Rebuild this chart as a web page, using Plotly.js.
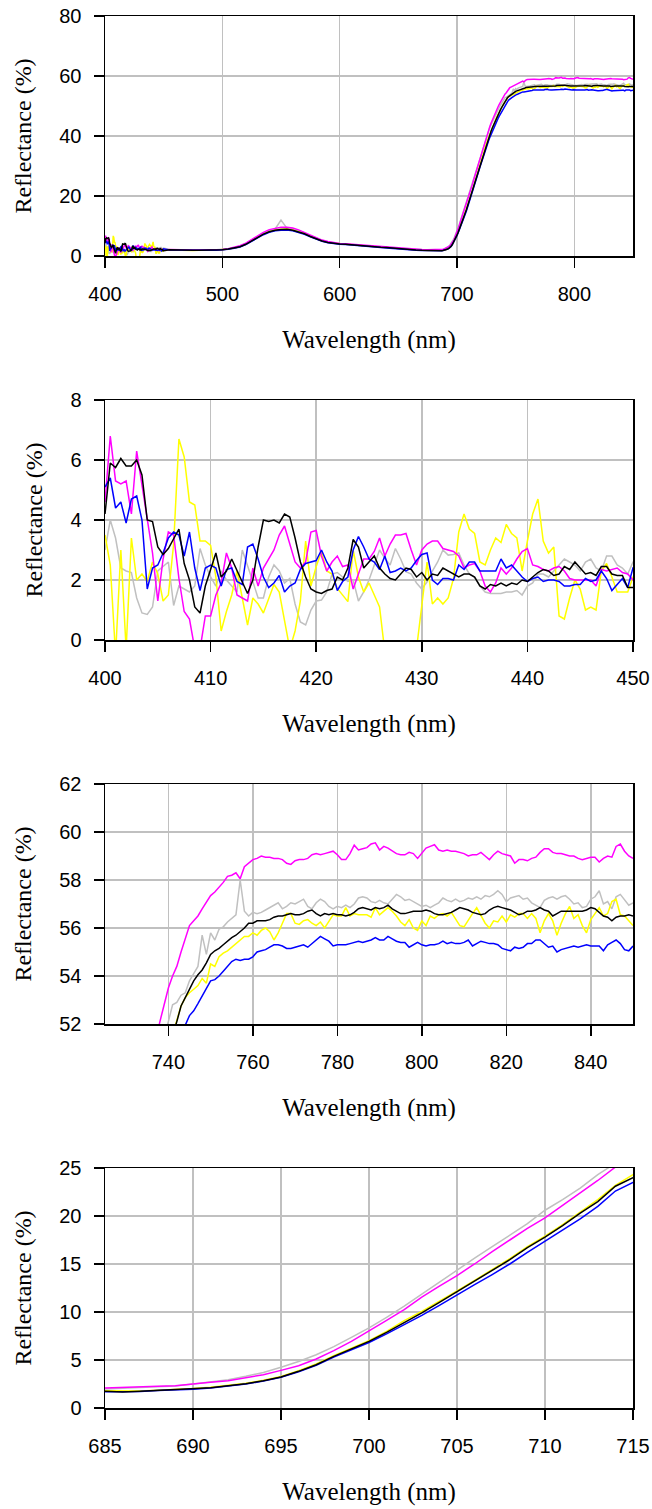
<!DOCTYPE html>
<html>
<head>
<meta charset="utf-8">
<script src="https://cdn.plot.ly/plotly-3.0.1.min.js"></script>
<style>
html,body{margin:0;padding:0;background:#fff;}
#chart{width:652px;height:1509px;}
</style>
</head>
<body>
<div id="chart"></div>
<script>
// ---------- Wavelength sampling of each data segment (nm) ----------
const segA = {start: 400, step: 0.5};   // 400-450 nm
const segB = {start: 455, step: 5};     // 455-680 nm
const segC = {start: 685, step: 1};     // 685-715 nm
const segD = {start: 716, step: 1};     // 716-850 nm

// ---------- Series names and colours ----------
const seriesNames = ["gray", "yellow", "magenta", "blue", "black"];
const seriesColors = ["#c0c0c0", "#ffff00", "#ff00ff", "#0000ff", "#000000"];

// ---------- Reflectance (%) : segment A, 400-450 nm ----------
const blackA = [4.2,5.9,5.75,6.05,5.8,5.8,6.0,5.5,4.0,3.95,
  3.1,2.85,3.05,3.4,3.7,2.55,2.0,1.1,0.9,1.8,
  2.35,2.9,2.1,2.3,2.7,2.3,1.95,1.55,2.0,3.1,
  4.0,3.95,4.0,3.9,4.2,4.1,3.4,2.6,2.1,1.7,
  1.6,1.55,1.65,1.7,2.1,2.0,2.4,3.35,3.1,2.4,
  2.6,2.8,2.4,2.2,2.05,2.0,2.2,2.4,2.35,2.1,
  2.25,2.0,2.2,2.15,2.4,2.3,2.2,2.1,2.2,2.2,
  2.1,1.8,1.7,1.85,1.8,1.9,1.8,1.9,1.85,2.0,
  1.95,2.1,2.25,2.35,2.3,2.15,2.2,2.45,2.35,2.6,
  2.4,2.2,2.25,2.15,2.45,2.45,2.2,2.15,2.15,1.75,
  1.75];
const magentaA = [4.6,6.8,5.3,5.2,5.3,4.2,6.3,5.2,4.0,2.9,
  1.3,2.7,3.6,3.5,2.05,0.95,0.7,-0.3,-0.3,0.8,
  0.8,1.5,1.9,2.9,2.4,1.5,1.4,1.3,2.4,1.8,
  2.4,2.7,3.0,3.5,3.8,3.2,2.6,2.4,2.6,3.6,
  3.65,2.8,2.3,2.6,2.8,2.45,2.5,1.7,2.2,2.7,
  2.7,2.95,3.4,2.8,3.2,3.5,3.5,3.55,3.0,2.5,
  3.0,3.2,3.3,3.3,3.05,3.0,2.95,2.8,2.4,2.5,
  2.55,2.3,1.8,1.6,1.9,2.4,2.2,2.4,2.7,2.95,
  3.05,2.5,2.45,2.35,2.3,2.4,2.45,2.3,2.05,2.0,
  2.0,2.0,2.0,1.8,2.35,2.3,2.35,2.4,2.25,2.2,
  2.0];
const blueA = [5.1,5.4,4.4,4.6,3.9,4.7,4.8,4.0,1.7,2.4,
  2.5,2.9,3.4,3.6,3.5,2.8,3.6,2.4,1.65,2.4,
  2.5,2.4,1.8,2.35,2.4,1.95,1.85,3.1,3.2,2.7,
  2.1,1.75,1.9,2.15,1.6,1.8,1.9,2.35,2.55,2.6,
  2.65,3.0,2.6,2.3,1.65,1.95,2.1,3.0,3.45,3.1,
  2.7,2.6,2.35,2.8,2.25,2.3,2.4,2.3,2.4,2.65,
  2.85,2.9,2.0,1.85,2.05,2.05,2.0,2.5,2.35,2.6,
  2.6,2.3,2.3,2.3,2.3,2.7,2.4,2.5,2.3,2.1,
  1.95,2.05,2.1,1.95,2.0,2.0,1.95,1.8,1.8,1.85,
  1.85,2.05,1.95,2.0,2.3,2.05,1.65,1.85,2.05,1.75,
  2.4];
const yellowA = [3.5,2.5,-0.5,3.0,-0.3,3.4,2.0,2.2,1.95,2.6,
  2.2,1.3,1.5,3.2,6.7,6.1,4.6,4.5,3.3,3.3,
  3.15,2.1,0.3,0.95,1.5,2.3,1.4,0.5,1.4,1.2,
  0.9,1.4,1.85,1.6,0.6,-0.3,0.3,1.3,3.3,1.8,
  2.45,2.95,2.3,2.2,1.72,1.5,1.28,3.0,2.1,1.6,
  1.9,1.5,1.1,-0.4,-0.8,-1.0,-1.0,-0.8,-0.6,-0.3,
  1.2,2.6,1.2,1.4,1.2,1.4,2.05,3.6,4.2,3.7,
  3.55,2.6,2.5,3.0,3.4,3.25,3.85,3.55,3.4,2.3,
  3.3,4.2,4.7,3.3,2.9,3.1,0.8,0.7,1.4,2.0,
  1.7,1.0,1.1,1.0,2.3,2.55,2.1,1.6,1.6,1.6,
  2.1];
const grayA = [3.0,4.0,3.4,2.4,2.3,2.25,1.4,0.9,0.85,1.1,
  2.3,2.45,2.6,1.15,1.8,1.7,1.6,1.8,3.05,2.5,
  2.1,1.8,2.3,2.0,1.8,1.6,3.0,2.5,1.95,1.4,
  1.4,2.1,2.5,2.3,1.9,2.05,1.2,0.6,0.5,1.0,
  1.3,1.33,1.6,2.2,2.25,2.1,1.95,2.0,1.3,1.6,
  2.0,2.5,3.0,2.72,2.5,3.05,2.7,2.28,2.2,1.9,
  1.7,1.94,2.3,2.6,3.0,2.83,2.85,2.9,2.5,2.2,
  2.1,1.8,1.6,1.55,1.55,1.55,1.6,1.6,1.65,1.5,
  1.8,1.9,2.2,2.2,2.1,2.3,2.5,2.7,2.6,2.5,
  2.3,2.6,2.7,2.4,2.3,2.8,2.8,2.5,2.4,2.2,
  2.6];

// ---------- Segment B, 455-680 nm ----------
const blackB = [2.1,2.0,2.0,1.95,1.9,1.9,1.9,1.95,2.0,2.1,
  2.3,2.6,3.1,3.9,5.0,6.2,7.3,8.1,8.6,8.8,
  8.9,8.6,8.1,7.4,6.5,5.7,5.0,4.5,4.2,4.0,
  3.9,3.7,3.5,3.3,3.1,3.0,2.9,2.8,2.6,2.4,
  2.3,2.1,2.0,1.9,1.8,1.75];
const magentaB = [2.2,2.1,2.05,2.0,2.0,2.0,2.0,2.05,2.1,2.2,
  2.45,2.8,3.4,4.3,5.5,6.8,7.9,8.8,9.3,9.6,
  9.6,9.3,8.7,7.9,7.0,6.1,5.3,4.8,4.4,4.2,
  4.05,3.9,3.7,3.45,3.25,3.1,3.0,2.9,2.75,2.6,
  2.45,2.3,2.2,2.15,2.1,2.08];
const blueB = [2.0,1.95,1.95,1.9,1.9,1.85,1.85,1.9,1.95,2.05,
  2.25,2.55,3.0,3.8,4.9,6.1,7.1,7.9,8.4,8.6,
  8.7,8.4,7.9,7.2,6.4,5.6,4.9,4.4,4.1,3.9,
  3.8,3.6,3.4,3.2,3.0,2.9,2.8,2.7,2.5,2.35,
  2.2,2.05,1.95,1.85,1.75,1.72];
const yellowB = [2.0,1.9,2.0,1.9,1.85,1.9,1.85,1.9,2.0,2.1,
  2.3,2.6,3.1,3.9,5.0,6.2,7.3,8.1,8.7,8.9,
  9.0,8.7,8.2,7.5,6.6,5.8,5.1,4.6,4.3,4.05,
  3.95,3.75,3.55,3.35,3.15,3.0,2.9,2.8,2.65,2.45,
  2.3,2.15,2.0,1.9,1.85,1.8];
const grayB = [2.2,2.1,2.05,2.0,2.0,2.0,2.0,2.0,2.1,2.2,
  2.4,2.75,3.3,4.2,5.4,6.6,7.7,8.5,9.0,12.0,
  9.3,9.0,8.4,7.7,6.8,5.9,5.2,4.7,4.3,4.1,
  4.0,3.8,3.6,3.4,3.2,3.05,2.95,2.85,2.7,2.55,
  2.4,2.25,2.15,2.05,2.0,1.98];

// ---------- Segment C, 685-715 nm ----------
const blackC = [1.74,1.67,1.74,1.84,1.9,1.98,2.12,2.33,2.53,2.85,
  3.23,3.82,4.5,5.38,6.15,6.94,7.88,8.85,9.9,11.0,
  12.1,13.2,14.3,15.45,16.7,17.8,19.0,20.3,21.5,23.1,
  24.0];
const magentaC = [2.08,2.12,2.15,2.26,2.33,2.47,2.67,2.85,3.13,3.47,
  3.92,4.4,5.1,5.97,6.94,8.0,9.13,10.24,11.56,12.7,
  13.8,15.0,16.3,17.5,18.7,19.8,21.1,22.4,23.7,25.1,
  26.4];
const blueC = [1.7,1.68,1.72,1.82,1.88,1.96,2.08,2.28,2.5,2.8,
  3.2,3.78,4.45,5.3,6.05,6.82,7.72,8.65,9.65,10.7,
  11.8,12.85,13.9,15.0,16.2,17.35,18.5,19.7,21.0,22.6,
  23.5];
const yellowC = [1.78,1.72,1.78,1.86,1.93,2.02,2.15,2.35,2.57,2.88,
  3.28,3.88,4.58,5.45,6.25,7.02,7.98,9.1,10.05,11.1,
  12.2,13.3,14.4,15.55,16.8,17.9,19.1,20.4,21.7,23.2,
  24.3];
const grayC = [1.98,2.05,2.1,2.2,2.3,2.5,2.7,2.95,3.3,3.7,
  4.25,4.85,5.55,6.4,7.35,8.35,9.45,10.6,11.85,13.1,
  14.4,15.6,16.8,18.0,19.2,20.6,21.7,22.9,24.3,25.5,
  26.7];

// ---------- Segment D, 716-850 nm ----------
const blackD = [25.3,26.7,28.1,29.5,30.85,32.2,33.5,34.8,36.05,37.25,
  38.4,39.5,40.55,41.6,42.6,43.55,44.5,45.4,46.25,47.1,
  47.9,48.7,49.45,50.15,50.85,51.5,52.1,52.75,53.1,53.45,
  53.8,54.05,54.25,54.55,54.9,55.05,55.15,55.3,55.45,55.6,
  55.7,55.85,56.0,56.2,56.2,56.3,56.3,56.3,56.35,56.45,
  56.5,56.5,56.55,56.6,56.55,56.55,56.6,56.7,56.75,56.6,
  56.5,56.6,56.55,56.6,56.55,56.55,56.5,56.55,56.65,56.8,
  56.85,56.8,56.75,56.85,56.8,56.85,56.95,56.8,56.7,56.6,
  56.6,56.65,56.7,56.7,56.7,56.75,56.7,56.6,56.55,56.55,
  56.6,56.65,56.75,56.85,56.8,56.75,56.65,56.6,56.55,56.6,
  56.75,56.85,56.9,56.85,56.8,56.75,56.65,56.55,56.6,56.7,
  56.7,56.75,56.85,56.75,56.7,56.5,56.6,56.7,56.7,56.7,
  56.7,56.7,56.7,56.75,56.85,56.8,56.65,56.5,56.45,56.3,
  56.45,56.5,56.5,56.55,56.5];
const magentaD = [27.7,29.15,30.6,32.05,33.45,34.8,36.15,37.45,38.7,39.9,
  41.05,42.15,43.2,44.25,45.25,46.2,47.15,48.05,48.9,49.75,
  50.55,51.35,52.1,52.8,53.5,54.0,54.4,55.0,55.6,56.1,
  56.3,56.5,56.8,57.1,57.35,57.5,57.7,57.9,58.15,58.2,
  58.3,58.05,58.55,58.7,58.85,58.9,59.0,58.95,58.95,58.9,
  58.9,58.85,58.7,58.65,58.8,58.85,58.85,58.9,59.05,59.1,
  59.05,59.1,59.15,59.2,59.05,58.85,58.85,59.1,59.45,59.25,
  59.3,59.35,59.5,59.55,59.25,59.4,59.33,59.2,59.1,59.05,
  59.05,59.15,59.1,58.9,59.1,59.33,59.4,59.47,59.25,59.2,
  59.25,59.2,59.2,59.15,59.1,59.0,59.05,59.05,59.15,59.0,
  58.85,59.05,59.2,59.1,59.05,59.0,58.7,58.85,58.85,58.8,
  58.9,58.95,59.15,59.3,59.3,59.15,59.1,59.1,59.05,59.0,
  59.0,58.9,58.85,58.9,58.95,58.95,58.75,58.9,59.0,58.95,
  59.4,59.5,59.2,59.0,58.9];
const blueD = [24.85,26.2,27.55,28.9,30.2,31.5,32.75,34.0,35.2,36.35,
  37.45,38.5,39.55,40.55,41.5,42.45,43.35,44.2,45.05,45.85,
  46.65,47.4,48.15,48.85,49.55,50.2,50.8,51.4,51.95,52.35,
  52.55,52.85,53.15,53.45,53.8,53.85,54.0,54.2,54.4,54.6,
  54.7,54.65,54.7,54.7,54.8,55.0,55.05,55.1,55.2,55.3,
  55.3,55.25,55.15,55.15,55.2,55.25,55.3,55.2,55.35,55.5,
  55.65,55.55,55.45,55.25,55.3,55.3,55.3,55.35,55.4,55.45,
  55.4,55.45,55.5,55.6,55.5,55.5,55.65,55.55,55.45,55.4,
  55.4,55.2,55.3,55.4,55.3,55.25,55.3,55.3,55.35,55.45,
  55.35,55.4,55.35,55.35,55.4,55.5,55.25,55.35,55.45,55.4,
  55.35,55.35,55.3,55.15,55.1,55.05,55.2,55.15,55.2,55.35,
  55.35,55.5,55.5,55.35,55.2,55.25,55.0,55.1,55.15,55.2,
  55.25,55.2,55.25,55.3,55.25,55.25,55.25,55.05,55.3,55.4,
  55.5,55.35,55.1,55.05,55.25];
const yellowD = [25.65,27.05,28.45,29.85,31.2,32.5,33.8,35.05,36.25,37.4,
  38.5,39.6,40.65,41.7,42.7,43.65,44.6,45.5,46.35,47.2,
  48.0,48.8,49.55,50.25,50.95,51.55,52.1,52.75,53.1,53.3,
  53.45,53.6,53.9,53.7,54.5,54.4,54.8,54.95,55.05,55.2,
  55.35,55.5,55.65,55.65,55.8,55.7,55.9,56.0,55.85,55.5,
  55.8,56.2,56.6,56.6,56.2,56.15,56.3,56.35,56.2,56.1,
  56.25,56.0,56.3,56.55,56.5,56.5,56.85,56.5,56.6,56.55,
  56.55,56.55,56.45,56.85,56.55,56.7,56.85,56.7,56.5,56.25,
  56.1,56.35,56.0,55.9,56.3,56.1,56.5,56.4,56.55,56.6,
  56.5,56.65,56.4,56.1,56.05,56.35,56.6,56.85,56.5,56.2,
  56.0,56.3,56.25,56.5,56.25,56.55,56.45,56.6,56.6,56.4,
  56.6,56.4,55.8,56.3,56.6,56.3,55.7,56.2,56.6,56.9,
  56.4,56.55,56.1,55.8,56.35,56.6,56.85,56.5,56.6,57.1,
  57.2,56.55,56.5,56.3,56.1];
const grayD = [28.0,29.4,30.8,32.2,33.55,34.85,36.1,37.35,38.55,39.7,
  40.8,41.85,42.85,43.8,44.7,45.55,46.4,47.2,48.0,48.75,
  49.5,50.2,50.9,51.5,52.1,52.8,52.9,53.2,53.3,53.8,
  54.1,54.4,55.7,54.9,55.8,55.5,55.95,56.05,56.25,56.4,
  56.55,58.0,56.7,56.5,56.65,56.6,56.65,56.75,56.85,56.95,
  57.05,56.8,56.9,57.05,57.0,57.1,57.2,56.9,56.8,57.05,
  57.2,57.1,56.9,56.8,56.9,56.85,56.95,56.85,57.0,57.25,
  57.3,57.25,57.1,57.05,57.15,57.05,57.0,57.2,57.4,57.3,
  57.15,57.2,57.1,57.0,56.9,56.95,56.85,56.95,57.05,57.25,
  57.15,57.1,57.2,57.1,57.15,57.25,57.2,57.3,57.2,57.35,
  57.3,57.4,57.55,57.4,57.1,57.25,57.3,57.35,57.2,57.25,
  57.05,56.95,56.85,57.15,57.25,57.3,57.2,57.3,57.35,57.2,
  57.0,57.05,56.85,56.9,57.2,57.3,57.55,57.0,57.1,56.8,
  57.3,57.4,57.15,56.95,57.05];

// ---------- Axis settings / tick values ----------
const panelXRanges = [[400, 850], [400, 450], [725, 850], [685, 715]];
const panelXDticks = [100, 10, 20, 5];
const panelYRanges = [[0, 80], [0, 8], [52, 62], [0, 25]];
const panelYDticks = [20, 2, 2, 5];
const xTitle = "Wavelength (nm)";
const yTitle = "Reflectance (%)";

// ---------- Build ----------
const seriesData = {
  gray: [grayA, grayB, grayC, grayD],
  yellow: [yellowA, yellowB, yellowC, yellowD],
  magenta: [magentaA, magentaB, magentaC, magentaD],
  blue: [blueA, blueB, blueC, blueD],
  black: [blackA, blackB, blackC, blackD]
};
const segs = [segA, segB, segC, segD];

function assemble(parts) {
  const x = [], y = [];
  parts.forEach((arr, k) => {
    arr.forEach((v, i) => {
      x.push(+(segs[k].start + i * segs[k].step).toFixed(2));
      y.push(v);
    });
  });
  return {x, y};
}

const traces = [];
for (let p = 0; p < 4; p++) {
  seriesNames.forEach((name, si) => {
    const d = assemble(seriesData[name]);
    traces.push({
      type: "scatter", mode: "lines",
      x: d.x, y: d.y, name: name,
      xaxis: p === 0 ? "x" : "x" + (p + 1),
      yaxis: p === 0 ? "y" : "y" + (p + 1),
      line: {color: seriesColors[si], width: 1.5},
      showlegend: false, hoverinfo: "skip"
    });
  });
}

// Panel geometry in px (plot areas span y=16..1408)
const figH = 1509, plotTop = 16, plotBottom = 1408, plotSpan = plotBottom - plotTop;
const panelTops = [16, 400, 784, 1168];
const panelH = 240;

const tickFont = {family: '"Liberation Sans", Arial, sans-serif', size: 20, color: "#000"};
const serifFamily = '"Liberation Serif", "Times New Roman", Times, "DejaVu Serif", serif';

const layout = {
  width: 652, height: 1509,
  margin: {l: 105, r: 19, t: plotTop, b: figH - plotBottom, pad: 0},
  paper_bgcolor: "#fff", plot_bgcolor: "#fff",
  showlegend: false,
  font: {family: serifFamily, size: 24, color: "#000"}
};

for (let p = 0; p < 4; p++) {
  const yb = (plotBottom - (panelTops[p] + panelH)) / plotSpan;
  const yt = (plotBottom - panelTops[p]) / plotSpan;
  const sx = p === 0 ? "" : String(p + 1);
  const common = {
    showline: true, linecolor: "#000", linewidth: 1.5, mirror: true,
    ticks: "outside", ticklen: 10, tickwidth: 1.5, tickcolor: "#000",
    showgrid: true, gridcolor: "#c0c0c0", gridwidth: 1.5,
    zeroline: false, tickfont: tickFont, fixedrange: true
  };
  layout["xaxis" + sx] = Object.assign({}, common, {
    domain: [0, 1], anchor: "y" + sx,
    range: panelXRanges[p], dtick: panelXDticks[p], tick0: 0,
    ticklabelstandoff: 9,
    title: {text: xTitle, font: {family: serifFamily, size: 25, color: "#000"}, standoff: 27}
  });
  layout["yaxis" + sx] = Object.assign({}, common, {
    domain: [Math.max(0, yb), Math.min(1, yt)], anchor: "x" + sx,
    range: panelYRanges[p], dtick: panelYDticks[p], tick0: 0,
    ticklabelstandoff: 8,
    title: {text: yTitle, font: {family: serifFamily, size: 24, color: "#000"}, standoff: 21}
  });
}

Plotly.newPlot("chart", traces, layout, {staticPlot: true, displayModeBar: false});
</script>
</body>
</html>
